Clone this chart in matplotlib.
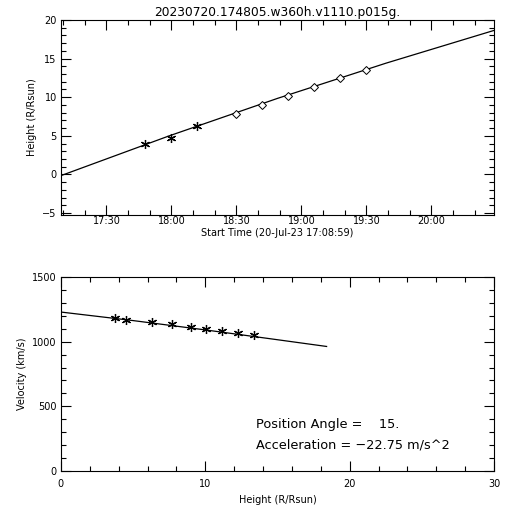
import matplotlib
matplotlib.use("Agg")
import matplotlib.pyplot as plt
import numpy as np

# observation times and measured heights (R/Rsun)
obs_times = ["17:48", "18:00", "18:12", "18:30", "18:42", "18:54", "19:06", "19:18", "19:30"]
heights = [3.9, 4.7, 6.3, 7.85, 9.05, 10.15, 11.3, 12.45, 13.5]
instrument = ["C2", "C2", "C2", "C3", "C3", "C3", "C3", "C3", "C3"]

# fitted height-time curve (minutes after start, R/Rsun)
fit_minutes = [0, 50, 100, 150, 200]
fit_heights = [-0.15, 5.0, 9.85, 14.4, 18.65]

# velocity panel
vel_heights = [3.76, 4.5, 6.28, 7.69, 9.0, 10.07, 11.16, 12.29, 13.4]
velocities = [1186, 1170, 1155, 1134, 1111, 1095, 1080, 1064, 1049]
vfit_heights = [0, 5, 10, 15, 18.4]
vfit_velocities = [1229, 1163, 1091, 1015, 963]

time_ticks = ["17:30", "18:00", "18:30", "19:00", "19:30", "20:00"]
start = "17:08:59"


def minutes(s):
    parts = [int(p) for p in s.split(":")]
    while len(parts) < 3:
        parts.append(0)
    return parts[0] * 60 + parts[1] + parts[2] / 60.0


t0 = minutes(start)
obs_x = [minutes(s) - t0 for s in obs_times]

plt.rcParams["font.family"] = "DejaVu Sans"
plt.rcParams["font.size"] = 7

fig = plt.figure(figsize=(5.12, 5.12), dpi=100)
ax1 = fig.add_axes([0.119, 0.580, 0.846, 0.381])
ax2 = fig.add_axes([0.119, 0.080, 0.846, 0.379])

ax1.plot(fit_minutes, fit_heights, color="black", lw=0.9)
for x, h, ins in zip(obs_x, heights, instrument):
    if ins == "C2":
        ax1.plot(x, h, marker=(6, 2, 0), ms=6.5, color="black", mew=0.9)
    else:
        ax1.plot(x, h, marker="D", ms=4, mfc="white", mec="black", mew=0.7)

ax1.set_xlim(0, 200)
ax1.set_ylim(-5.25, 20)
ax1.set_xticks([minutes(s) - t0 for s in time_ticks])
ax1.set_xticklabels(time_ticks)
ax1.set_xticks([minutes("17:10") - t0 + 10 * i for i in range(20)], minor=True)
ax1.set_yticks([-5, 0, 5, 10, 15, 20])
ax1.set_yticks(np.arange(-5, 21, 1), minor=True)
ax1.set_xlabel("Start Time (20-Jul-23 17:08:59)", labelpad=1)
ax1.set_ylabel("Height (R/Rsun)", labelpad=4)
ax1.set_title("20230720.174805.w360h.v1110.p015g.", fontsize=8.8, pad=3)

ax2.plot(vfit_heights, vfit_velocities, color="black", lw=0.9)
ax2.plot(vel_heights, velocities, ls="none", marker=(6, 2, 0), ms=6.5, color="black", mew=0.9)
ax2.set_xlim(0, 30)
ax2.set_ylim(0, 1500)
ax2.set_xticks([0, 10, 20, 30])
ax2.set_xticks(np.arange(0, 31, 2), minor=True)
ax2.set_yticks([0, 500, 1000, 1500])
ax2.set_yticks(np.arange(0, 1501, 100), minor=True)
ax2.set_xlabel("Height (R/Rsun)", labelpad=4)
ax2.set_ylabel("Velocity (km/s)", labelpad=4)
ax2.text(13.5, 356, "Position Angle =    15.", fontsize=9.3, va="center")
ax2.text(13.5, 201, "Acceleration = \u221222.75 m/s^2", fontsize=9.3, va="center")

for ax in (ax1, ax2):
    ax.tick_params(which="both", direction="in", top=True, right=True, width=0.8)
    ax.tick_params(which="major", length=7, pad=3)
    ax.tick_params(which="minor", length=3.5)
    for sp in ax.spines.values():
        sp.set_linewidth(0.8)
ax1.tick_params(axis="x", which="major", pad=1)
ax2.tick_params(axis="x", which="major", pad=6)

fig.savefig("out.png", dpi=100)
